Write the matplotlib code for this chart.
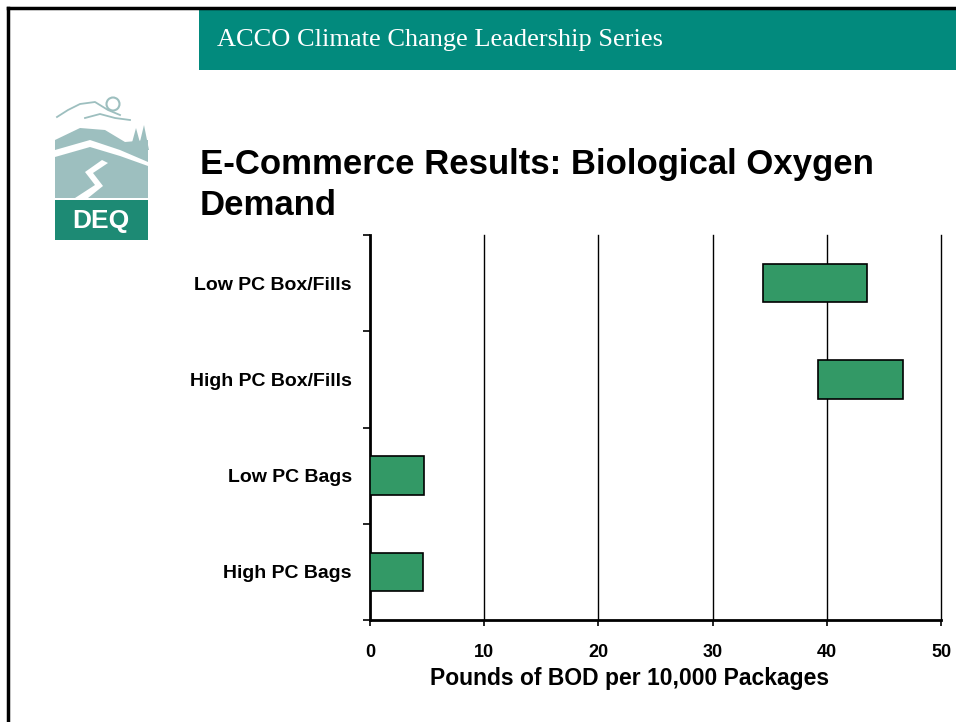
import matplotlib.pyplot as plt
from matplotlib.patches import Rectangle, Polygon, Ellipse

# floating bars: start and end of each range (lbs BOD per 10,000 packages)
categories = ['Low PC Box/Fills', 'High PC Box/Fills', 'Low PC Bags', 'High PC Bags']
range_low = [34.4, 39.2, 0.0, 0.0]
range_high = [43.5, 46.7, 4.7, 4.6]
xticks = [0, 10, 20, 30, 40, 50]

W, H = 956, 722
fig = plt.figure(figsize=(W / 100, H / 100), dpi=100)
plt.rcParams['font.family'] = ['Liberation Sans', 'DejaVu Sans']

def fx(px):
    return px / W

def fy(py):
    return 1 - py / H

# slide frame (left + top edges) and header band
fig.add_artist(plt.Line2D([fx(8), fx(8)], [fy(8), 0], color='black', lw=2.5))
fig.add_artist(plt.Line2D([fx(8), 1], [fy(8), fy(8)], color='black', lw=2.5))
fig.add_artist(Rectangle((fx(199), fy(70)), 1 - fx(199), fy(10) - fy(70),
                         facecolor='#028a7d', edgecolor='none'))
fig.text(fx(217), fy(40), 'ACCO Climate Change Leadership Series', color='white',
         fontsize=19, family='Liberation Serif', va='center', ha='left')

# rough DEQ logo
pale = '#9dbfbf'
teal = '#1d8a74'
fig.add_artist(Polygon([(fx(55), fy(140)), (fx(80), fy(128)), (fx(105), fy(130)),
                        (fx(125), fy(142)), (fx(148), fy(140)), (fx(148), fy(198)),
                        (fx(55), fy(198))], closed=True, facecolor=pale, edgecolor='none'))
fig.add_artist(Polygon([(fx(55), fy(150)), (fx(90), fy(140)), (fx(120), fy(150)),
                        (fx(148), fy(162)), (fx(148), fy(166)), (fx(120), fy(156)),
                        (fx(90), fy(147)), (fx(55), fy(157))], closed=True,
                       facecolor='white', edgecolor='none'))
fig.add_artist(Polygon([(fx(75), fy(198)), (fx(95), fy(185)), (fx(85), fy(172)),
                        (fx(102), fy(160)), (fx(108), fy(163)), (fx(93), fy(173)),
                        (fx(103), fy(186)), (fx(88), fy(198))], closed=True,
                       facecolor='white', edgecolor='none'))
fig.add_artist(Polygon([(fx(130), fy(150)), (fx(136), fy(128)), (fx(142), fy(150))],
                       closed=True, facecolor=pale, edgecolor='none'))
fig.add_artist(Polygon([(fx(138), fy(150)), (fx(144), fy(125)), (fx(149), fy(150))],
                       closed=True, facecolor=pale, edgecolor='none'))
fig.add_artist(Ellipse((fx(113), fy(104)), fx(13), 13 / H, facecolor='none', edgecolor=pale, lw=1.5))
fig.add_artist(plt.Line2D([fx(57), fx(68), fx(80), fx(95), fx(108), fx(120)],
                          [fy(117), fy(110), fy(104), fy(102), fy(110), fy(115)], color=pale, lw=1.3))
fig.add_artist(plt.Line2D([fx(85), fx(100), fx(115), fx(130)],
                          [fy(118), fy(114), fy(118), fy(120)], color=pale, lw=1.3))
fig.add_artist(Rectangle((fx(55), fy(240)), fx(93), fy(200) - fy(240),
                         facecolor=teal, edgecolor='none'))
fig.text(fx(101), fy(221), 'DEQ', color='white', fontsize=19, fontweight='bold',
         ha='center', va='center')

fig.text(fx(200), fy(185), 'E-Commerce Results: Biological Oxygen\nDemand',
         fontsize=25, fontweight='bold', ha='left', va='center', linespacing=1.3)

ax = fig.add_axes([fx(370), fy(620), fx(941) - fx(370), fy(235) - fy(620)])
ypos = list(range(len(categories)))
widths = [h - l for l, h in zip(range_low, range_high)]
ax.barh(ypos, widths, left=range_low, height=0.4, color='#339966',
        edgecolor='black', linewidth=1.2, zorder=3)
ax.set_ylim(len(categories) - 0.5, -0.5)
ax.set_xlim(0, 50)
for t in xticks[1:]:
    ax.axvline(t, color='black', linewidth=1, zorder=0, clip_on=False)
ax.set_xticks(xticks)
ax.set_xticklabels([str(t) for t in xticks], fontsize=13, fontweight='bold')
ax.set_yticks(ypos)
ax.set_yticklabels(categories, fontsize=14, fontweight='bold')
ax.tick_params(axis='y', length=0, pad=13)
ax.set_yticks([i - 0.5 for i in range(len(categories) + 1)], minor=True)
ax.tick_params(axis='y', which='minor', length=5, width=1.2, direction='out')
ax.tick_params(axis='x', length=4, width=1.2, direction='out', pad=13)
for s in ['top', 'right']:
    ax.spines[s].set_visible(False)
ax.spines['left'].set_linewidth(2)
ax.spines['bottom'].set_linewidth(2)
ax.set_xlabel('Pounds of BOD per 10,000 Packages', fontsize=16.5, fontweight='bold')
ax.xaxis.set_label_coords((630 - 370) / 571, -0.122)

fig.savefig('out.png', dpi=100)
